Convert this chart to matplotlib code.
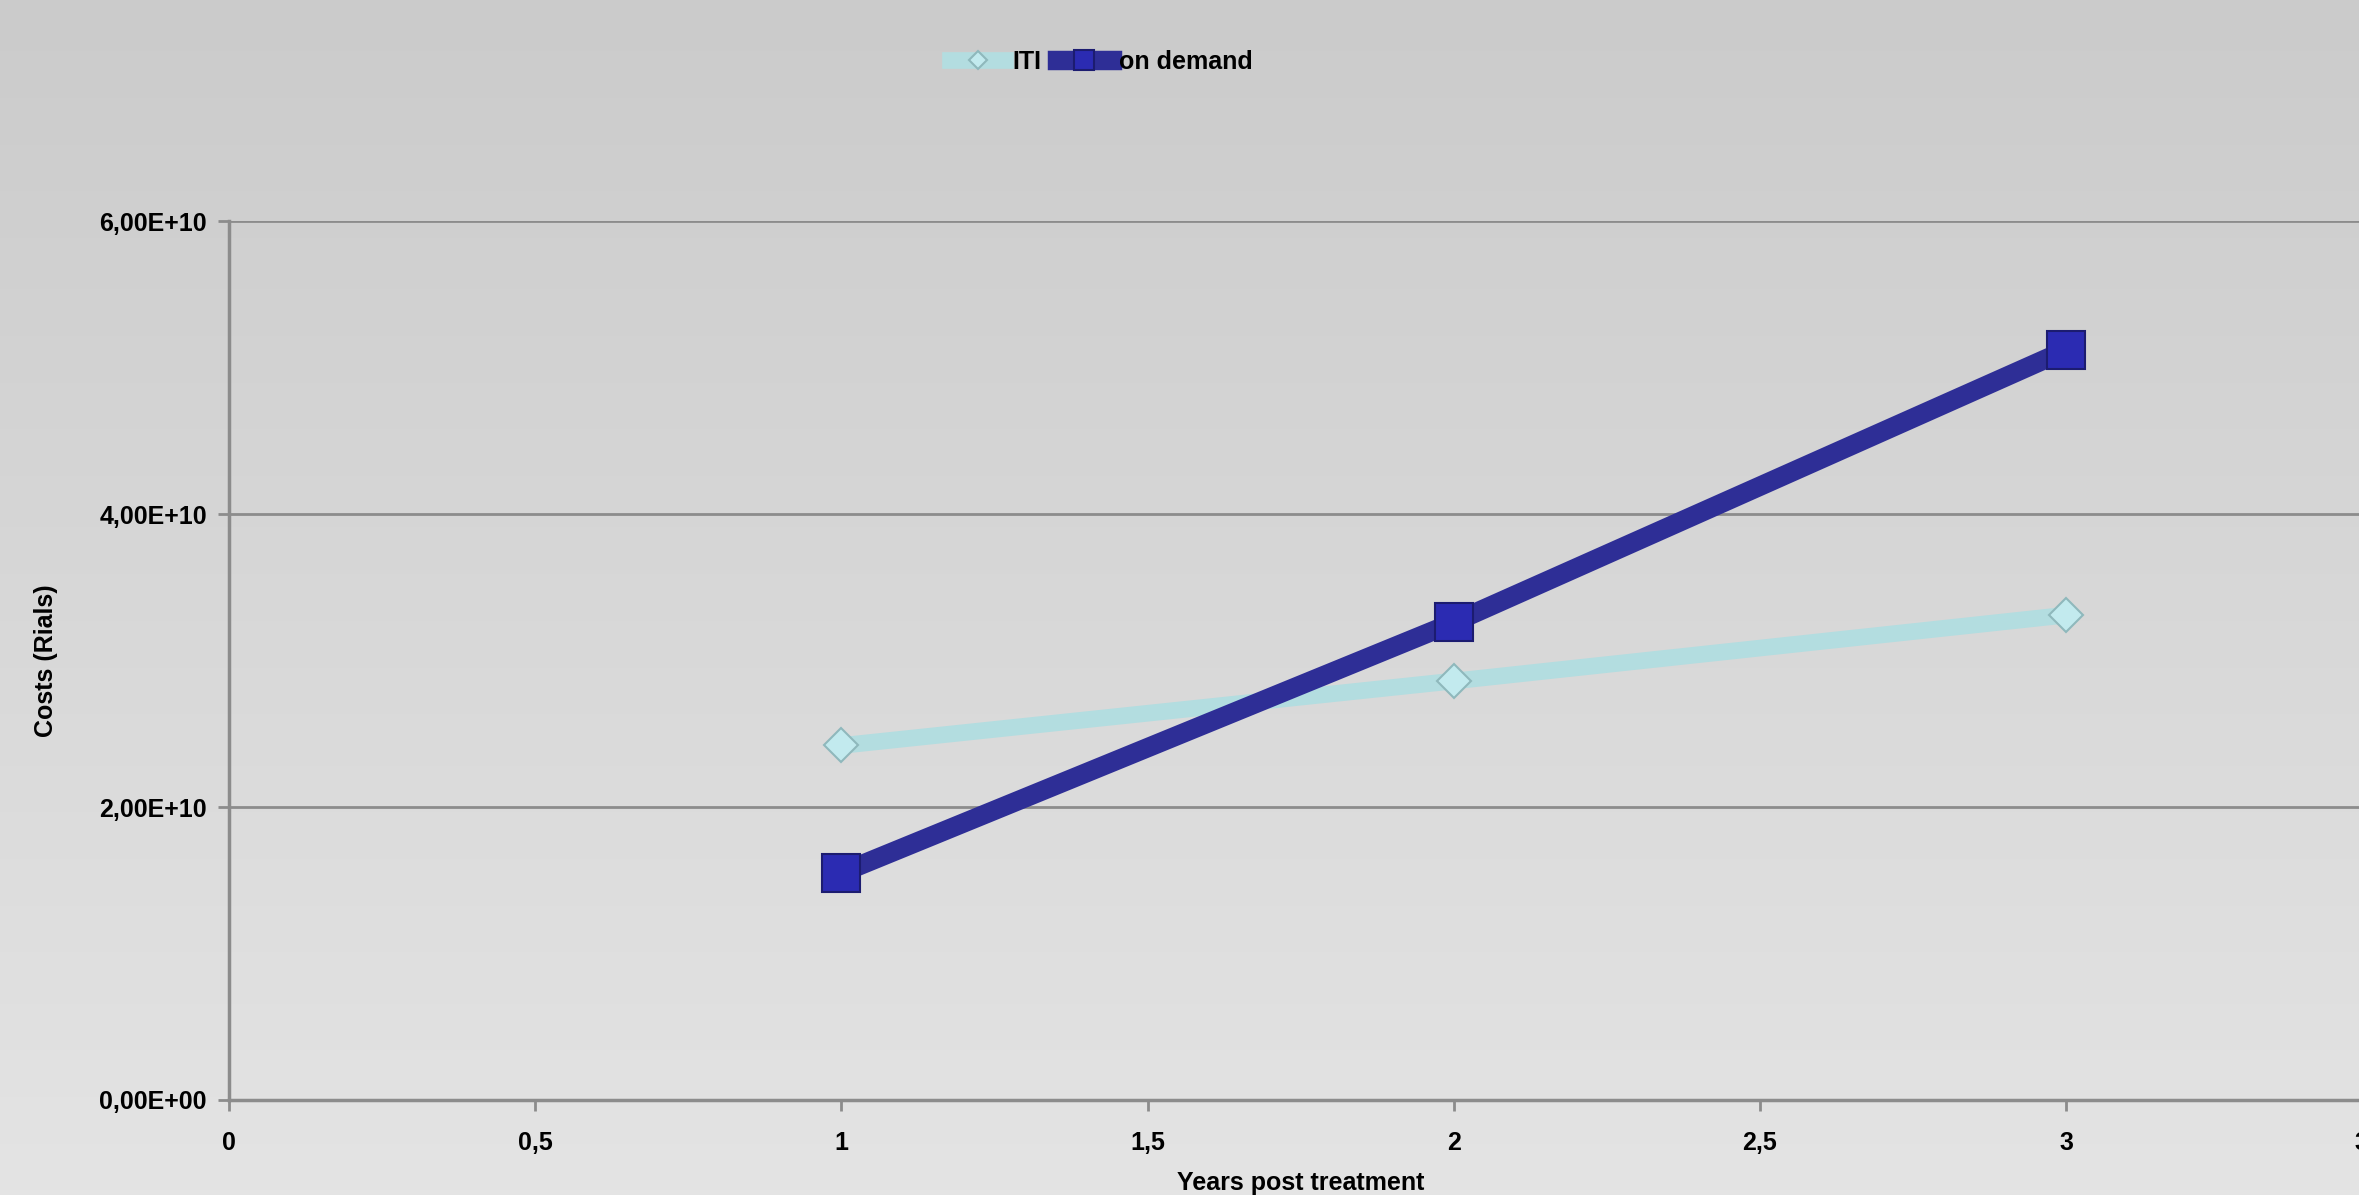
import numpy as np
import matplotlib
matplotlib.use("Agg")
import matplotlib.pyplot as plt

# datos
years = [1, 2, 3]
iti = [2.42e10, 2.86e10, 3.31e10]
on_demand = [1.55e10, 3.26e10, 5.12e10]
xticks = [0, 0.5, 1, 1.5, 2, 2.5, 3, 3.5]
xtick_labels = ["0", "0,5", "1", "1,5", "2", "2,5", "3", "3,5"]
yticks = [0, 2e10, 4e10, 6e10]
ytick_labels = ["0,00E+00", "2,00E+10", "4,00E+10", "6,00E+10"]

plt.rcParams["font.family"] = ["Liberation Sans", "DejaVu Sans"]
plt.rcParams["font.weight"] = "bold"

fig = plt.figure(figsize=(23.59, 11.95), dpi=100)

# fondo degradado
bg = fig.add_axes([0, 0, 1, 1], zorder=0)
grad = np.linspace(0, 1, 256).reshape(-1, 1)
bg.imshow(grad, aspect="auto", cmap=matplotlib.colors.LinearSegmentedColormap.from_list("g", ["#cbcbcb", "#e4e4e4"]),
          extent=[0, 1, 0, 1], origin="upper")
bg.axis("off")

ax = fig.add_axes([0.0971, 0.0795, 0.9085, 0.7355], zorder=1)
ax.patch.set_alpha(0)

ax.plot(years, iti, color="#b3dde0", lw=12, marker="D", markersize=17,
        markerfacecolor="#c2eaee", markeredgecolor="#8fb8bc", markeredgewidth=1.5, label="ITI", zorder=3)
ax.plot(years, on_demand, color="#2e2e96", lw=14, marker="s", markersize=27,
        markerfacecolor="#2b2bb2", markeredgecolor="#1c1c70", markeredgewidth=1.5, label="on demand", zorder=4)

ax.set_xlim(0, 3.5)
ax.set_ylim(0, 6e10)
ax.set_xticks(xticks)
ax.set_xticklabels(xtick_labels)
ax.set_yticks(yticks)
ax.set_yticklabels(ytick_labels)
ax.tick_params(axis="both", labelsize=18, colors="#8c8c8c", labelcolor="black", length=8, width=2)
ax.tick_params(axis="x", pad=14)
ax.tick_params(axis="y", pad=8)
ax.yaxis.grid(True, color="#8c8c8c", lw=2)
ax.set_axisbelow(True)
for s in ["top", "right"]:
    ax.spines[s].set_visible(False)
ax.spines["left"].set_color("#8c8c8c")
ax.spines["left"].set_linewidth(2.5)
ax.spines["bottom"].set_color("#8c8c8c")
ax.spines["bottom"].set_linewidth(2.5)

ax.set_ylabel("Costs (Rials)", fontsize=18, fontweight="bold", labelpad=30)
ax.set_xlabel("Years post treatment", fontsize=18, fontweight="bold", labelpad=12)

fig.legend(loc="center", bbox_to_anchor=(0.467, 0.948), ncol=2, frameon=False, fontsize=18,
           handlelength=2.2, columnspacing=0.6, handletextpad=0.3, markerscale=0.55)

fig.savefig("out.png", dpi=100)
